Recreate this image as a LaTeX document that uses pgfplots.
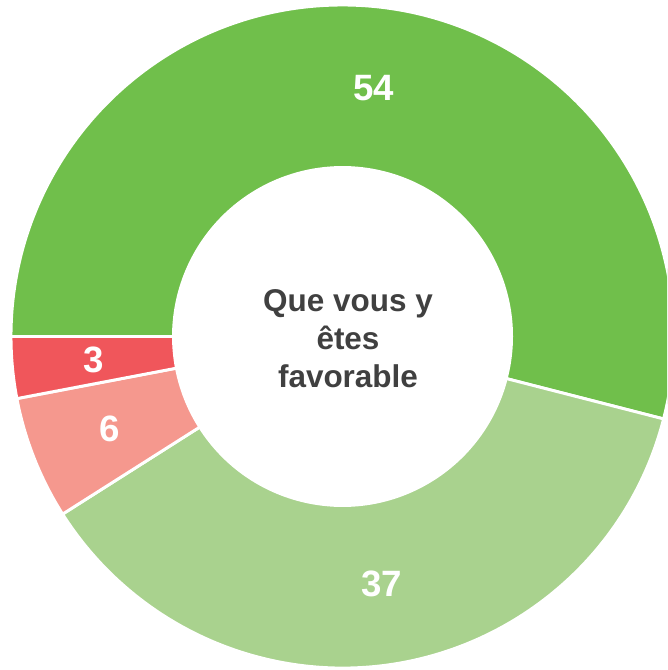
\documentclass[border=0pt]{standalone}
\usepackage{pgfplots}
\pgfplotsset{compat=1.18}
\usepackage{fontspec}
\setmainfont{Liberation Sans}
\definecolor{c54}{RGB}{112,191,75}
\definecolor{c37}{RGB}{169,210,142}
\definecolor{c6}{RGB}{245,152,142}
\definecolor{c3}{RGB}{240,86,91}
\definecolor{centertxt}{RGB}{64,64,64}
\tikzset{
  lbl/.style={text=white, font=\bfseries\fontsize{27.5}{30}\selectfont},
  slice/.style={draw=white, line width=2.2pt, line join=round},
}
% geometry in pixel units of the picture
\def\cx{342.5}\def\cy{333.5}
\def\Rout{331.5}\def\Rin{169}\def\Rmid{250.25}

\begin{document}
\begin{tikzpicture}
\begin{axis}[
  scale only axis, width=500.25pt, height=502.5pt,
  xmin=0, xmax=667, ymin=0, ymax=670,
  hide axis, clip=true,
]
\gdef\angA{180}
\foreach \v/\c in {54/c54,37/c37,6/c6,3/c3}{
  \pgfmathsetmacro\angB{\angA-3.6*\v}
  \pgfmathsetmacro\angM{(\angA+\angB)/2}
  \edef\temp{
    \noexpand\filldraw[slice, fill=\c]
      (axis cs:{\cx+\Rout*cos(\angA)},{\cy+\Rout*sin(\angA)})
      arc[start angle=\angA, end angle=\angB, radius=\Rout]
      -- (axis cs:{\cx+\Rin*cos(\angB)},{\cy+\Rin*sin(\angB)})
      arc[start angle=\angB, end angle=\angA, radius=\Rin] -- cycle;
    \noexpand\node[lbl] at (axis cs:{\cx+\Rmid*cos(\angM)},{\cy+\Rmid*sin(\angM)}) {\v};
  }
  \temp
  \xdef\angA{\angB}
}
\node[align=center, text=centertxt, font=\bfseries\fontsize{23.6}{28.5}\selectfont]
  at (axis cs:348,331) {Que vous y\\êtes\\favorable};
\end{axis}
\pgfresetboundingbox
\path[use as bounding box] (current axis.south west) rectangle (current axis.north east);
\end{tikzpicture}
\end{document}
